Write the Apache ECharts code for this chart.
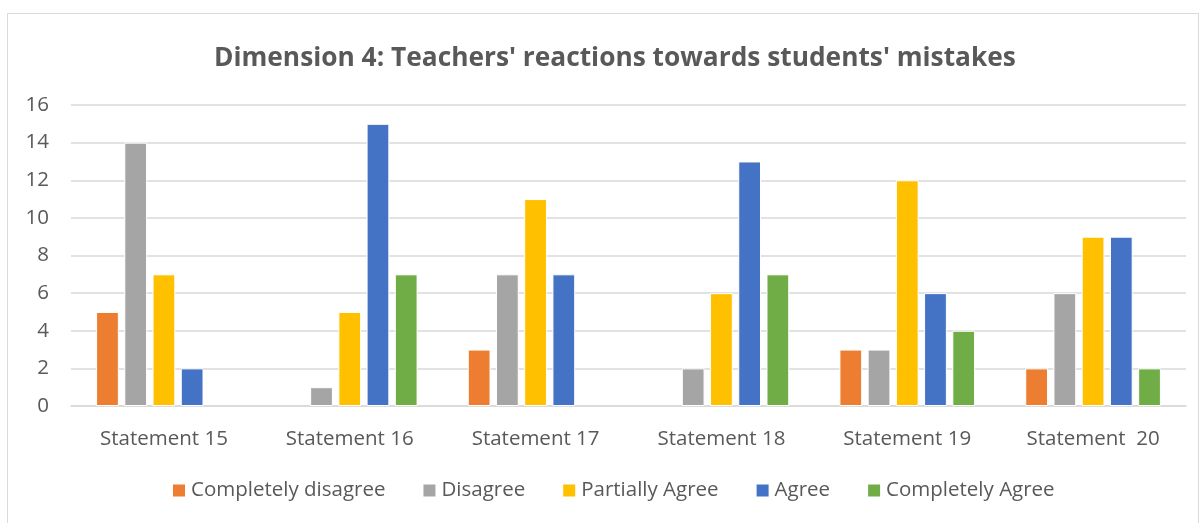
<!DOCTYPE html>
<html>
<head>
<meta charset="utf-8">
<script src="https://cdn.jsdelivr.net/npm/echarts@6/dist/echarts.min.js"></script>
<style>
  html, body { margin: 0; padding: 0; background: #fff; }
  #chart { width: 1201px; height: 523px; }
</style>
</head>
<body>
<div id="chart"></div>
<script>
const categories = ["Statement 15", "Statement 16", "Statement 17", "Statement 18", "Statement 19", "Statement  20"];
const completelyDisagree = [5, 0, 3, 0, 3, 2];
const disagree = [14, 1, 7, 2, 3, 6];
const partiallyAgree = [7, 5, 11, 6, 12, 9];
const agree = [2, 15, 7, 13, 6, 9];
const completelyAgree = [0, 7, 0, 7, 4, 2];
const yTicks = { min: 0, max: 16, interval: 2 };

const seriesDefs = [
  { name: "Completely disagree", data: completelyDisagree, color: "#ED7D31" },
  { name: "Disagree", data: disagree, color: "#A5A5A5" },
  { name: "Partially Agree", data: partiallyAgree, color: "#FFC000" },
  { name: "Agree", data: agree, color: "#4472C4" },
  { name: "Completely Agree", data: completelyAgree, color: "#70AD47" },
];

const font = "'Open Sans', 'Noto Sans', sans-serif";
const chart = echarts.init(document.getElementById("chart"), null, { renderer: "canvas" });

// zero bars get no white outline so they don't eat the axis line
function toItems(values) {
  return values.map((v) => (v === 0 ? { value: 0, itemStyle: { borderWidth: 0 } } : v));
}

chart.setOption({
  backgroundColor: "#fff",
  animation: false,
  graphic: [
    {
      type: "rect",
      shape: { x: 7.5, y: 13.5, width: 1191, height: 520 },
      style: { fill: "none", stroke: "#D9D9D9", lineWidth: 1 },
      silent: true,
    },
  ],
  title: {
    text: "Dimension 4: Teachers' reactions towards students' mistakes",
    left: 209,
    top: 41,
    textStyle: { fontFamily: font, fontSize: 26.3, fontWeight: "bold", color: "#595959" },
  },
  legend: {
    bottom: 17,
    left: 166,
    itemWidth: 14,
    itemHeight: 14,
    itemGap: 36,
    icon: "rect",
    textStyle: { fontFamily: font, fontSize: 20.5, color: "#595959" },
    data: seriesDefs.map((s) => s.name),
  },
  grid: { left: 71, right: 15, top: 105, bottom: 117 },
  xAxis: {
    type: "category",
    data: categories,
    axisLine: { lineStyle: { color: "#D9D9D9", width: 1.5 } },
    axisTick: { show: false },
    axisLabel: { fontFamily: font, fontSize: 20.5, color: "#595959", margin: 23 },
  },
  yAxis: {
    type: "value",
    min: yTicks.min,
    max: yTicks.max,
    interval: yTicks.interval,
    axisLine: { show: false },
    axisTick: { show: false },
    axisLabel: { fontFamily: font, fontSize: 20.5, color: "#595959", margin: 22 },
    splitLine: { lineStyle: { color: "#D9D9D9", width: 1.5 } },
  },
  series: seriesDefs.map((s) => ({
    name: s.name,
    type: "bar",
    data: toItems(s.data),
    barGap: "24%",
    barCategoryGap: "27%",
    itemStyle: { color: s.color, borderColor: "#fff", borderWidth: 1 },
  })),
});

window.addEventListener("resize", () => chart.resize());
</script>
</body>
</html>
